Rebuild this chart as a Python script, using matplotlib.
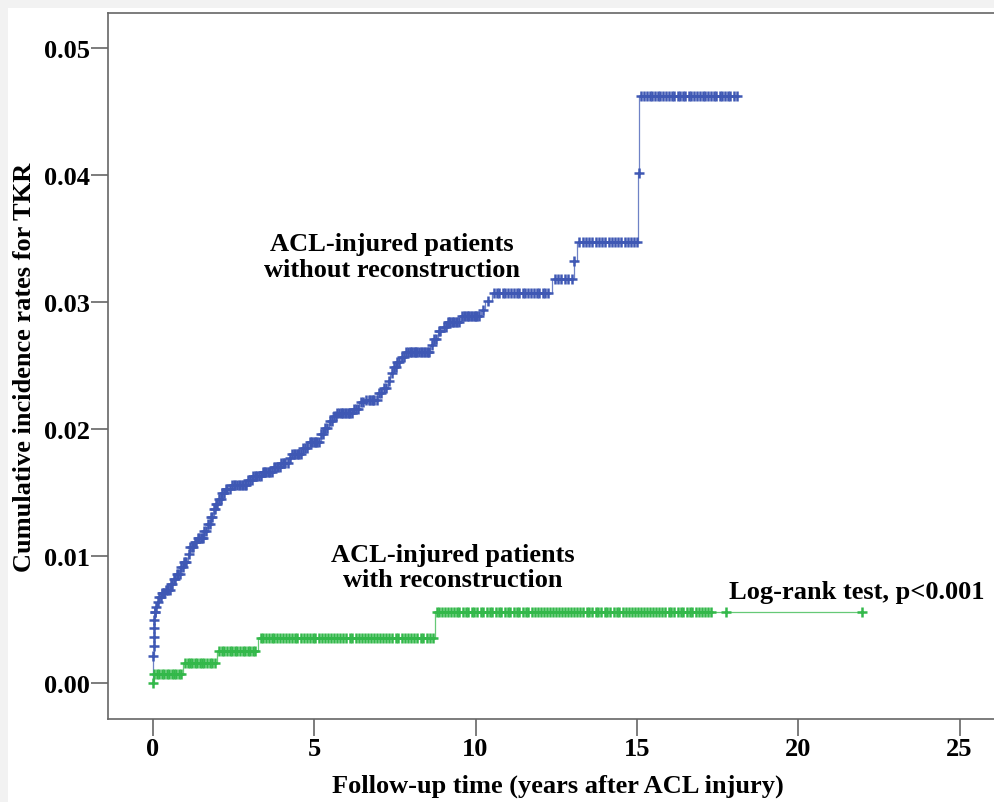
import numpy as np
import matplotlib
matplotlib.use("Agg")
from matplotlib import pyplot as plt
from matplotlib.patches import Rectangle

# step points (time in years, cumulative incidence)
blue_t = [0, 0.01, 0.02, 0.03, 0.04, 0.05, 0.06, 0.08, 0.12, 0.18, 0.26, 0.40,
          0.56, 0.64, 0.74, 0.84, 0.96, 1.08, 1.16, 1.26, 1.36, 1.60, 1.70, 1.80,
          1.88, 1.96, 2.04, 2.14, 2.24, 2.40, 2.95, 3.10, 3.38, 3.74, 3.95, 4.20,
          4.30, 4.64, 4.80, 5.20, 5.30, 5.46, 5.56, 5.70, 6.20, 6.40, 6.60, 6.96,
          7.10, 7.28, 7.36, 7.46, 7.56, 7.70, 7.86, 8.58, 8.70, 8.84, 8.96, 9.10,
          9.56, 10.18, 10.29, 10.50, 12.36, 13.05, 13.13, 15.03, 15.08]
blue_v = [0.0, 0.0021, 0.0029, 0.0036, 0.0043, 0.0050, 0.0056, 0.0060, 0.0064,
          0.0068, 0.0071, 0.0073, 0.0078, 0.0082, 0.0086, 0.0091, 0.0095, 0.0102,
          0.0107, 0.0111, 0.0114, 0.0120, 0.0125, 0.0131, 0.0137, 0.0141, 0.0145,
          0.0150, 0.0153, 0.0156, 0.0160, 0.0163, 0.0166, 0.0170, 0.0173, 0.0177,
          0.0180, 0.0185, 0.0190, 0.0196, 0.0201, 0.0206, 0.0210, 0.0213, 0.0216,
          0.0221, 0.0223, 0.0228, 0.0232, 0.0238, 0.0244, 0.0249, 0.0253, 0.0257,
          0.0261, 0.0266, 0.0271, 0.0277, 0.0280, 0.0284, 0.0289, 0.0294, 0.0301,
          0.0307, 0.0318, 0.0332, 0.0347, 0.0402, 0.0462]
blue_end = 18.1

# censored times (the "+" marks)
blue_cens = [0.01, 0.02, 0.03, 0.04, 0.05, 0.06, 0.07, 0.1, 0.15, 0.2, 0.24, 0.3,
             0.36, 0.45, 0.52, 0.6, 0.7, 0.78, 0.88, 0.92, 1.0, 1.12, 1.2, 1.3,
             1.4, 1.48, 1.55, 1.65, 1.76, 1.84, 1.92, 2.0, 2.1, 2.2, 2.3, 2.46,
             2.55, 2.66, 2.75, 2.85, 3.0, 3.06, 3.16, 3.24, 3.3, 3.44, 3.52, 3.6,
             3.68, 3.8, 3.88, 4.02, 4.1, 4.26, 4.38, 4.46, 4.54, 4.7, 4.86, 4.94,
             5.02, 5.1, 5.26, 5.4, 5.6, 5.66, 5.78, 5.86, 5.94, 6.04, 6.12, 6.28,
             6.46, 6.52, 6.7, 6.78, 6.86, 7.02, 7.16, 7.32, 7.42, 7.52, 7.64, 7.78,
             7.92, 8.0, 8.08, 8.16, 8.26, 8.34, 8.44, 8.52, 8.64, 8.78, 8.9, 9.02,
             9.18, 9.26, 9.34, 9.44, 9.5, 9.64, 9.72, 9.8, 9.9, 9.98, 10.06, 10.24,
             10.4, 10.58, 10.66, 10.74, 10.84, 10.92, 11.0, 11.1, 11.2, 11.28,
             11.36, 11.46, 11.54, 11.62, 11.72, 11.8, 11.9, 11.98, 12.08, 12.16,
             12.26, 12.46, 12.56, 12.66, 12.76, 12.86, 12.98, 13.06, 13.22, 13.32,
             13.42, 13.52, 13.62, 13.72, 13.82, 13.92, 14.02, 14.12, 14.22, 14.32,
             14.42, 14.52, 14.62, 14.72, 14.82, 14.92, 15.0, 15.05, 15.14, 15.22,
             15.3, 15.4, 15.48, 15.56, 15.64, 15.72, 15.82, 15.9, 15.98, 16.08,
             16.16, 16.26, 16.34, 16.42, 16.5, 16.6, 16.68, 16.78, 16.86, 16.94,
             17.04, 17.12, 17.2, 17.3, 17.38, 17.46, 17.56, 17.64, 17.72, 17.82,
             17.9, 18.0, 18.1]
# extra marks where the censoring is densest (first years)
blue_cens_dense = [0.27, 0.33, 0.41, 0.48, 0.56, 0.65, 0.74, 0.83, 0.96, 1.04,
                   1.16, 1.25, 1.35, 1.44, 1.52, 1.6, 1.7, 1.8, 1.88, 1.96, 2.05,
                   2.15, 2.26, 2.38, 2.5, 2.6, 2.7, 2.8, 2.9, 2.96, 3.11, 3.2,
                   3.36, 3.4, 3.48, 3.56, 3.64, 3.74, 3.84, 3.94, 3.98, 4.06, 4.18,
                   4.32, 4.42, 4.5, 4.6, 4.66, 4.78, 4.9, 4.98, 5.06, 5.16, 5.22,
                   5.34, 5.48, 5.54, 5.72, 5.82, 5.9, 5.98, 6.08, 6.16, 6.24, 6.36,
                   6.6, 6.74, 6.82, 6.94, 7.08, 7.24, 7.46, 7.58, 7.72, 7.86, 7.96,
                   8.04, 8.12, 8.2, 8.3, 8.4, 8.48, 8.56, 8.72, 8.86, 9.08, 9.14,
                   9.22, 9.3, 9.38, 9.58, 9.68, 9.76, 9.86, 9.94, 10.02, 10.12]

green_t = [0, 0.02, 0.93, 2.0, 3.27, 8.74]
green_v = [0.0, 0.00073, 0.00156, 0.00253, 0.00357, 0.00558]
green_end = 21.97
green_cens = [0, 0.05, 0.12, 0.2, 0.28, 0.36, 0.44, 0.5, 0.58, 0.66, 0.72, 0.8,
              0.86, 1.0, 1.08, 1.14, 1.22, 1.3, 1.38, 1.46, 1.52, 1.6, 1.68, 1.76,
              1.84, 1.92, 2.06, 2.14, 2.22, 2.3, 2.38, 2.46, 2.54, 2.62, 2.7, 2.78,
              2.86, 2.94, 3.02, 3.1, 3.18, 3.34, 3.42, 3.5, 3.6, 3.68, 3.76, 3.86,
              3.94, 4.04, 4.12, 4.22, 4.3, 4.4, 4.48, 4.6, 4.68, 4.78, 4.86, 4.96,
              5.04, 5.14, 5.24, 5.32, 5.42, 5.52, 5.6, 5.72, 5.8, 5.9, 6.0, 6.1,
              6.18, 6.3, 6.38, 6.48, 6.56, 6.66, 6.76, 6.86, 6.94, 7.04, 7.14, 7.24,
              7.32, 7.42, 7.52, 7.6, 7.72, 7.8, 7.9, 8.0, 8.1, 8.2, 8.3, 8.38, 8.48,
              8.58, 8.68, 8.8, 8.88, 8.96, 9.06, 9.14, 9.24, 9.32, 9.42, 9.5, 9.6,
              9.7, 9.78, 9.88, 9.96, 10.06, 10.16, 10.24, 10.34, 10.44, 10.52,
              10.62, 10.72, 10.8, 10.9, 11.0, 11.08, 11.18, 11.28, 11.36, 11.46,
              11.56, 11.64, 11.74, 11.84, 11.92, 12.02, 12.12, 12.2, 12.3, 12.4,
              12.5, 12.58, 12.68, 12.78, 12.86, 12.96, 13.06, 13.14, 13.24, 13.34,
              13.44, 13.52, 13.62, 13.72, 13.8, 13.9, 14.0, 14.08, 14.18, 14.28,
              14.38, 14.46, 14.56, 14.66, 14.74, 14.84, 14.94, 15.04, 15.12, 15.22,
              15.32, 15.4, 15.5, 15.6, 15.7, 15.78, 15.88, 15.98, 16.06, 16.16,
              16.26, 16.36, 16.44, 16.54, 16.64, 16.72, 16.82, 16.92, 17.02, 17.1,
              17.2, 17.3, 17.76, 21.97]

BLUE = "#3F58B4"
GREEN = "#33B84A"
FONT = "Liberation Serif"
FS = 19


def step_at(ts, vs, x):
    idx = np.searchsorted(ts, x, side="right") - 1
    return np.asarray(vs)[idx]


fig = plt.figure(figsize=(9.95, 8.03), dpi=100)
fig.patch.set_facecolor("#f2f2f2")
bg = Rectangle((8 / 995, 0), 1, 1 - 9 / 803, transform=fig.transFigure,
               facecolor="white", edgecolor="none", zorder=-10)
fig.add_artist(bg)

ax = fig.add_axes([108 / 995, 1 - 720 / 803, 900 / 995, 706 / 803])
ax.set_facecolor("none")

series = [(blue_t, blue_v, blue_end, sorted(blue_cens + blue_cens_dense), BLUE),
          (green_t, green_v, green_end, green_cens, GREEN)]
for ts, vs, end, cens, col in series:
    ax.step(list(ts) + [end], list(vs) + [vs[-1]], where="post", color=col,
            lw=0.9, alpha=0.75)
    ax.plot(cens, step_at(ts, vs, cens), ls="none", marker="+", ms=7.5, mew=1.8,
            color=col)

ax.set_xlim(-1.39, 26.5)
ax.set_ylim(-0.00283, 0.05276)
ax.set_xticks([0, 5, 10, 15, 20, 25])
ax.set_yticks([0.0, 0.01, 0.02, 0.03, 0.04, 0.05])
ax.set_yticklabels(["0.00", "0.01", "0.02", "0.03", "0.04", "0.05"])

ax.spines["right"].set_visible(False)
for s in ["left", "bottom", "top"]:
    ax.spines[s].set_color("#666666")
    ax.spines[s].set_linewidth(1.2)
ax.tick_params(length=12, width=1.2, color="#666666", pad=1)
for lab in ax.get_xticklabels() + ax.get_yticklabels():
    lab.set_fontfamily(FONT)
    lab.set_fontweight("bold")
    lab.set_fontsize(FS)

ax.set_xlabel("Follow-up time (years after ACL injury)", fontfamily=FONT,
              fontweight="bold", fontsize=FS, labelpad=10)
ax.set_ylabel("Cumulative incidence rates for TKR", fontfamily=FONT,
              fontweight="bold", fontsize=FS, labelpad=6)

ax.text(7.41, 0.0336, "ACL-injured patients\nwithout reconstruction", ha="center",
        va="center", fontfamily=FONT, fontweight="bold", fontsize=FS,
        linespacing=1.15)
ax.text(9.30, 0.00913, "ACL-injured patients\nwith reconstruction", ha="center",
        va="center", fontfamily=FONT, fontweight="bold", fontsize=FS,
        linespacing=1.15)
ax.text(21.8, 0.00717, "Log-rank test, p<0.001", ha="center", va="center",
        fontfamily=FONT, fontweight="bold", fontsize=FS)

fig.savefig("out.png", dpi=100)
